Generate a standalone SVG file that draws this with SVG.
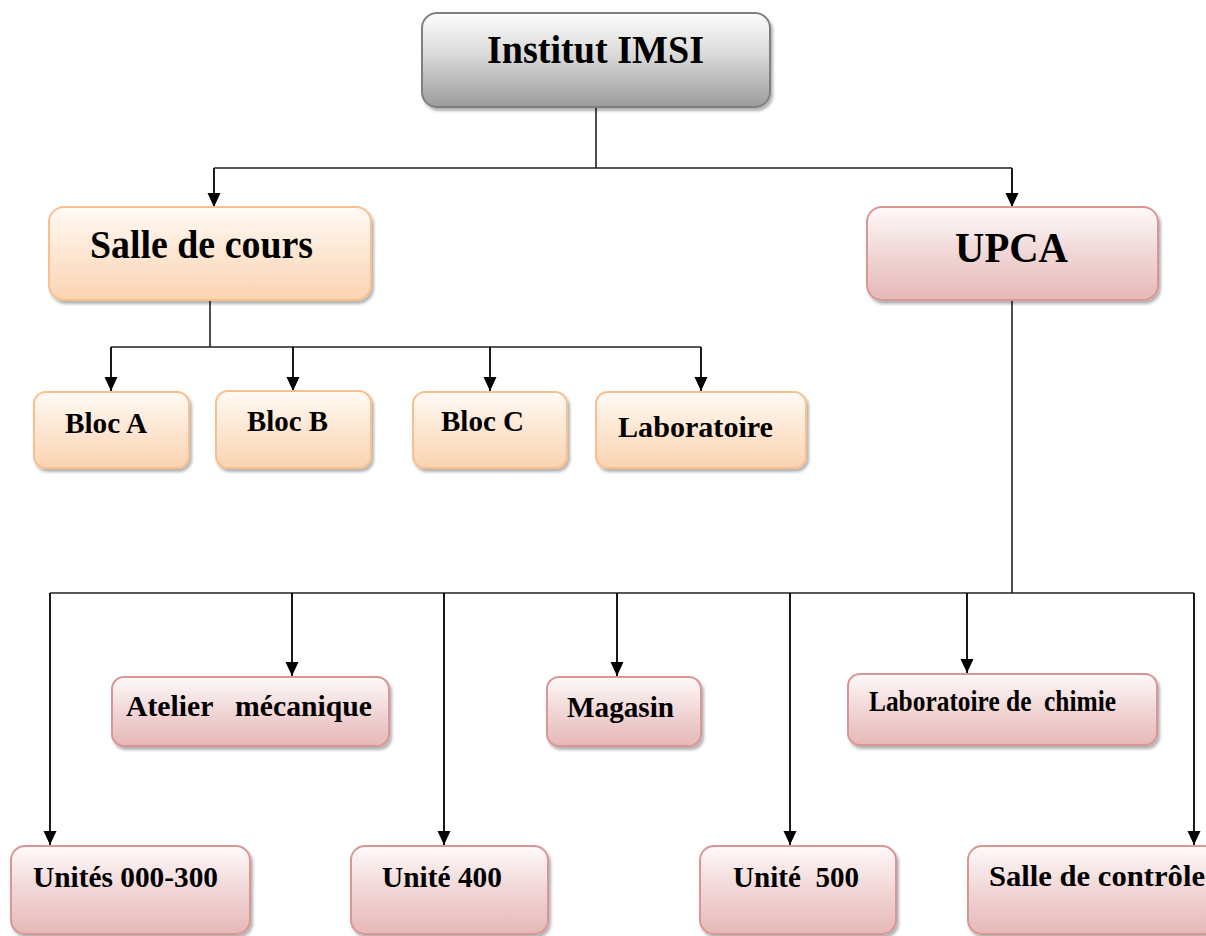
<svg xmlns="http://www.w3.org/2000/svg" width="1206" height="936" viewBox="0 0 1206 936">
<defs>
<linearGradient id="gGray" x1="0" y1="0" x2="0" y2="1">
<stop offset="0" stop-color="#fdfdfd"/><stop offset="0.45" stop-color="#d9d9d9"/><stop offset="1" stop-color="#9c9c9c"/>
</linearGradient>
<linearGradient id="gOrange" x1="0" y1="0" x2="0" y2="1">
<stop offset="0" stop-color="#fffaf5"/><stop offset="0.5" stop-color="#fde6d2"/><stop offset="1" stop-color="#fbd3b2"/>
</linearGradient>
<linearGradient id="gPink" x1="0" y1="0" x2="0" y2="1">
<stop offset="0" stop-color="#fefafa"/><stop offset="0.5" stop-color="#f1d6d6"/><stop offset="1" stop-color="#e6b8b7"/>
</linearGradient>
<filter id="sh" x="-10%" y="-10%" width="125%" height="130%">
<feDropShadow dx="2" dy="3" stdDeviation="1.5" flood-color="#000" flood-opacity="0.3"/>
</filter>
<marker id="arr" markerUnits="userSpaceOnUse" markerWidth="16" markerHeight="16" refX="14" refY="6.5" orient="auto">
<path d="M0,0 L14,6.5 L0,13 Z" fill="#000"/>
</marker>
<style>
.gray{fill:url(#gGray);stroke:#7f7f7f;stroke-width:2;filter:url(#sh)}
.org{fill:url(#gOrange);stroke:#f9bf8f;stroke-width:2;filter:url(#sh)}
.pink{fill:url(#gPink);stroke:#d99694;stroke-width:2;filter:url(#sh)}
text{font-family:"Liberation Serif","Times New Roman",serif;font-weight:bold;fill:#000;white-space:pre}
.big{font-size:39px}
.sm{font-size:30px}
.conn{fill:none;stroke:#222;stroke-width:1.6}
.ar{fill:none;stroke:#000;stroke-width:1.8;marker-end:url(#arr)}
</style>
</defs>
<rect width="1206" height="936" fill="#fff"/>

<g id="connectors">
<path class="conn" d="M596,107 V168 M214,168 H1012 M210,301 V347 M111,347 H701 M1012,301 V593 M50,593 H1194"/>
<path class="ar" d="M214,168 V207"/>
<path class="ar" d="M1012,168 V207"/>
<path class="ar" d="M111,347 V391"/>
<path class="ar" d="M293,347 V391"/>
<path class="ar" d="M490,347 V391"/>
<path class="ar" d="M701,347 V391"/>
<path class="ar" d="M50,593 V845"/>
<path class="ar" d="M292,593 V676"/>
<path class="ar" d="M444,593 V845"/>
<path class="ar" d="M617,593 V676"/>
<path class="ar" d="M790,593 V845"/>
<path class="ar" d="M967,593 V673"/>
<path class="ar" d="M1194,593 V845"/>
</g>

<g id="n-imsi">
<rect class="gray" x="422" y="13" width="348" height="94" rx="15"/>
<text class="big" x="487" y="63" textLength="217" lengthAdjust="spacingAndGlyphs">Institut IMSI</text>
</g>
<g id="n-salle">
<rect class="org" x="49" y="207" width="322" height="93" rx="15"/>
<text class="big" x="90" y="258" textLength="223" lengthAdjust="spacingAndGlyphs">Salle de cours</text>
</g>
<g id="n-upca">
<rect class="pink" x="867" y="207" width="291" height="93" rx="15"/>
<text x="955" y="262" font-size="43" textLength="113" lengthAdjust="spacingAndGlyphs">UPCA</text>
</g>

<g id="n-bloca">
<rect class="org" x="34" y="392" width="155" height="76" rx="12"/>
<text class="sm" x="65" y="433" textLength="82" lengthAdjust="spacingAndGlyphs">Bloc A</text>
</g>
<g id="n-blocb">
<rect class="org" x="216" y="391" width="155" height="77" rx="12"/>
<text class="sm" x="247" y="431" textLength="81" lengthAdjust="spacingAndGlyphs">Bloc B</text>
</g>
<g id="n-blocc">
<rect class="org" x="413" y="392" width="154" height="76" rx="12"/>
<text class="sm" x="441" y="431" textLength="83" lengthAdjust="spacingAndGlyphs">Bloc C</text>
</g>
<g id="n-labo">
<rect class="org" x="596" y="392" width="210" height="76" rx="12"/>
<text class="sm" x="618" y="437" textLength="155" lengthAdjust="spacingAndGlyphs">Laboratoire</text>
</g>

<g id="n-atelier">
<rect class="pink" x="112" y="677" width="277" height="69" rx="12"/>
<text class="sm" x="126" y="716" textLength="246" lengthAdjust="spacingAndGlyphs">Atelier   mécanique</text>
</g>
<g id="n-magasin">
<rect class="pink" x="547" y="677" width="154" height="69" rx="12"/>
<text class="sm" x="567" y="717" textLength="107" lengthAdjust="spacingAndGlyphs">Magasin</text>
</g>
<g id="n-labchimie">
<rect class="pink" x="848" y="674" width="309" height="71" rx="12"/>
<text class="sm" x="869" y="711" textLength="247" lengthAdjust="spacingAndGlyphs">Laboratoire de  chimie</text>
</g>

<g id="n-unites">
<rect class="pink" x="11" y="846" width="239" height="88" rx="14"/>
<text class="sm" x="33" y="887" textLength="185" lengthAdjust="spacingAndGlyphs">Unités 000-300</text>
</g>
<g id="n-u400">
<rect class="pink" x="351" y="846" width="197" height="88" rx="14"/>
<text class="sm" x="382" y="887" textLength="120" lengthAdjust="spacingAndGlyphs">Unité 400</text>
</g>
<g id="n-u500">
<rect class="pink" x="700" y="846" width="196" height="88" rx="14"/>
<text class="sm" x="733" y="887" textLength="126" lengthAdjust="spacingAndGlyphs">Unité  500</text>
</g>
<g id="n-controle">
<rect class="pink" x="968" y="846" width="250" height="88" rx="14"/>
<text class="sm" x="989" y="886" textLength="216" lengthAdjust="spacingAndGlyphs">Salle de contrôle</text>
</g>
</svg>
